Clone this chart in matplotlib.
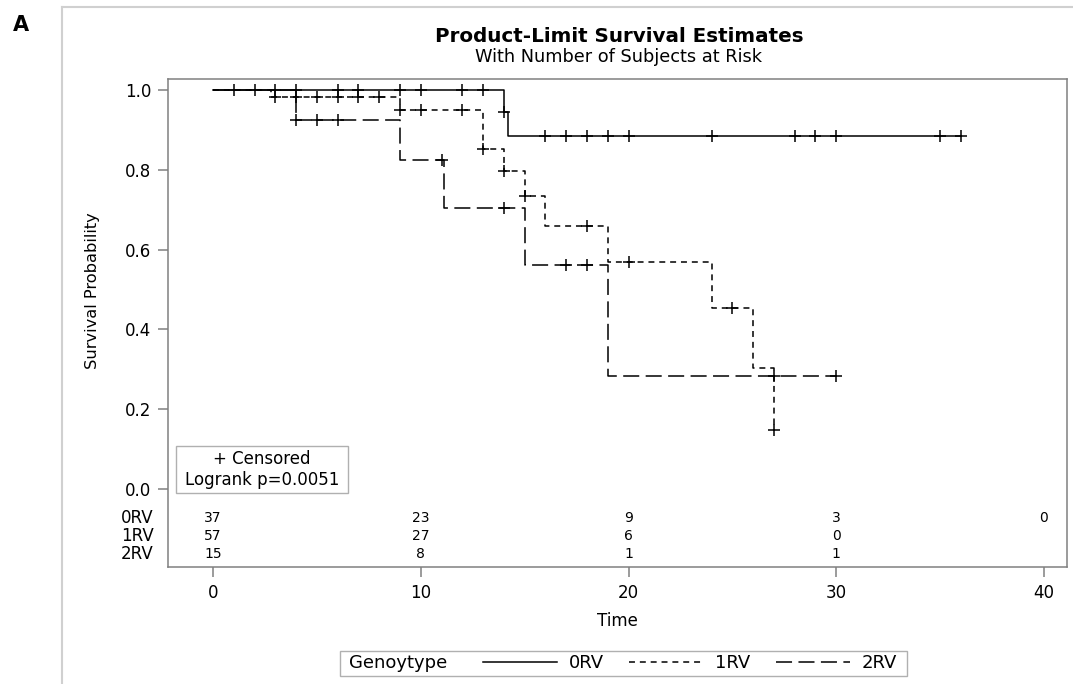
import numpy as np
import matplotlib
matplotlib.use('Agg')
import matplotlib.pyplot as plt
from matplotlib.patches import Rectangle
from matplotlib.lines import Line2D

plt.rcParams['font.family'] = ['DejaVu Sans']

t0 = [0, 14, 14.2, 36]
s0 = [1.0, 0.946, 0.886, 0.886]
t1 = [0, 2.8, 9, 13, 14, 15, 16, 19, 24, 26, 27]
s1 = [1.0, 0.982, 0.949, 0.853, 0.796, 0.735, 0.66, 0.568, 0.453, 0.304, 0.148]
t2 = [0, 4, 9, 11.1, 15, 19, 30]
s2 = [1.0, 0.924, 0.825, 0.704, 0.562, 0.283, 0.283]

# zensierte Zeitpunkte
c0 = [1, 2, 3, 4, 6, 7, 9, 10, 12, 13, 14, 16, 17, 18, 19, 20, 24, 28, 29, 30, 35, 36]
c1 = [3, 4, 5, 6, 7, 8, 9, 10, 12, 13, 14, 15, 18, 20, 25, 27]
c2 = [4, 5, 6, 11, 14, 17, 18, 27, 30]

# Number at risk
groups = ['0RV', '1RV', '2RV']
risk_times = [0, 10, 20, 30, 40]
risk0 = [37, 23, 9, 3, 0]
risk1 = [57, 27, 6, 0]
risk2 = [15, 8, 1, 1]


def surv_at(t, tt, ss):
    # Wert der Treppenfunktion an der Stelle t
    idx = np.searchsorted(tt, t, side='right') - 1
    return np.array(ss)[idx]


fig = plt.figure(figsize=(10.73, 6.84), dpi=100)
ax = fig.add_axes([168/1073, 1-567/684, 899/1073, 488/684])

lw = 1.1
l0, = ax.step(t0, s0, where='post', color='black', lw=lw, label='0RV')
l1, = ax.step(t1, s1, where='post', color='black', lw=lw, label='1RV')
l1.set_dashes([3.9, 3.2])
l2, = ax.step(t2, s2, where='post', color='black', lw=lw, label='2RV')
l2.set_dashes([10.5, 4.2])

for c, tt, ss in [(c0, t0, s0), (c1, t1, s1), (c2, t2, s2)]:
    ax.plot(c, surv_at(c, tt, ss), '+', color='black', ms=8.5, mew=1.1)

ax.set_xlim(-2.17, 41.11)
ax.set_ylim(-0.196, 1.028)
ax.set_xticks([0, 10, 20, 30, 40])
ax.set_yticks(np.arange(0, 1.01, 0.2))
ax.set_yticklabels(['%.1f' % v for v in np.arange(0, 1.01, 0.2)])
ax.tick_params(length=7, width=1.1, color='#808080', labelsize=12, pad=5)
for sp in ax.spines.values():
    sp.set_color('#808080')
    sp.set_linewidth(1.1)

ax.set_xlabel('Time', fontsize=12)
ax.xaxis.set_label_coords(0.5, -0.092)
ax.set_ylabel('Survival Probability', fontsize=11.7)
ax.yaxis.set_label_coords(-0.076, 0.567)

# at risk Tabelle
row_y = [-0.073, -0.118, -0.163]
for g, r, y in zip(groups, [risk0, risk1, risk2], row_y):
    for t, n in zip(risk_times, r):
        ax.text(t, y, str(n), ha='center', va='center', fontsize=10)
    ax.text(-0.016, y, g, transform=ax.get_yaxis_transform(), ha='right',
            va='center', fontsize=12)

# Kasten Zensiert / Logrank
ax.add_patch(Rectangle((-1.78, -0.010), 8.28, 0.118, fill=True, fc='white',
                       ec='#b0b0b0', lw=1, zorder=3))
ax.text(2.36, 0.049, '+ Censored\nLogrank p=0.0051', ha='center', va='center',
        fontsize=12, linespacing=1.25, zorder=4)

# Titel
fig.text(619/1073, 1-36/684, 'Product-Limit Survival Estimates', ha='center',
         va='center', fontsize=14.3, fontweight='bold')
fig.text(619/1073, 1-57/684, 'With Number of Subjects at Risk', ha='center',
         va='center', fontsize=12.8)
fig.text(13/1073, 1-25/684, 'A', ha='left', va='center', fontsize=15,
         fontweight='bold')

# grauer Rahmen aussen
fig.add_artist(Line2D([62/1073, 1], [1-7/684, 1-7/684], color='#d0d0d0', lw=1.5))
fig.add_artist(Line2D([62/1073, 62/1073], [0, 1-7/684], color='#d0d0d0', lw=1.5))

# Legende unten
fig.add_artist(Rectangle((340/1073, 1-676/684), 567/1073, 25/684, fill=False,
                         edgecolor='#b0b0b0', lw=1, transform=fig.transFigure))
fig.text(349/1073, 1-663.5/684, 'Genoytype', ha='left', va='center', fontsize=13)
fig.legend(handles=[l0, l1, l2], labels=groups, loc='center left',
           bbox_to_anchor=(483/1073, 1-663.5/684), ncol=3, frameon=False,
           fontsize=13, handlelength=4.1, handletextpad=0.66, columnspacing=1.4,
           borderpad=0, borderaxespad=0)

plt.savefig('out.png', dpi=100)
